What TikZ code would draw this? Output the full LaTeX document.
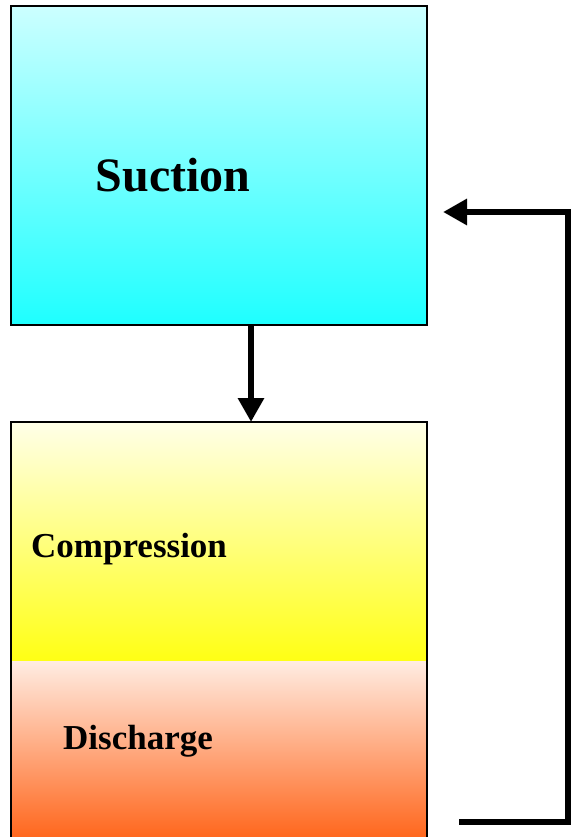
\documentclass[tikz,border=0pt]{standalone}
\usepackage{fontspec}
\setmainfont{Liberation Serif}
\usetikzlibrary{arrows.meta,positioning}

\definecolor{suctop}{RGB}{204,255,255}
\definecolor{sucmid}{RGB}{158,255,255}
\definecolor{sucbot}{RGB}{30,255,255}
\definecolor{comptop}{RGB}{255,255,232}
\definecolor{compmid}{RGB}{255,255,192}
\definecolor{compbot}{RGB}{255,255,20}
\definecolor{distop}{RGB}{255,236,226}
\definecolor{dismid}{RGB}{255,202,182}
\definecolor{disbot}{RGB}{255,100,25}

\begin{document}
\begin{tikzpicture}[x=1pt,y=-1pt,
  stage/.style={minimum width=416pt,inner sep=0pt,outer sep=0pt},
  label/.style={font=\bfseries\fontsize{35}{40}\selectfont,inner sep=0pt},
  flow/.style={line width=6pt,-{Triangle[length=24pt,width=25pt]}}]
  \useasboundingbox (0,0) rectangle (571,837);
  \clip (0,0) rectangle (571,837);

  % boxes
  \node [stage,draw=black,line width=2pt,minimum height=319pt,
    top color=suctop,middle color=sucmid,bottom color=sucbot] (suction) at (219,165.5) {};
  \node [stage,minimum height=239pt,
    top color=comptop,middle color=compmid,bottom color=compbot] (compression) at (219,541.5) {};
  \node [stage,minimum height=180pt,
    top color=distop,middle color=dismid,bottom color=disbot] (discharge) at (219,751) {};
  \draw [line width=2pt] (discharge.south west) |- (compression.north east)
    -- (discharge.south east);

  % texts
  \node [font=\bfseries\fontsize{48}{52}\selectfont,inner sep=0pt] (suctxt) at (173,175) {Suction};
  \node [label,anchor=west] (comptxt) at (31,549) {Compression};
  \node [label,anchor=west] (distxt) at (63,741) {Discharge};

  % arrows
  \coordinate (downx) at (251,0);
  \draw [flow] (suction.south -| downx) -- (compression.north -| downx);
  \coordinate (retstart) at (459,822);
  \coordinate (retcorner) at (568,212);
  \coordinate (retend) at (443,212);
  \draw [flow] (retstart) -| (retcorner) -- (retend);
\end{tikzpicture}
\end{document}
